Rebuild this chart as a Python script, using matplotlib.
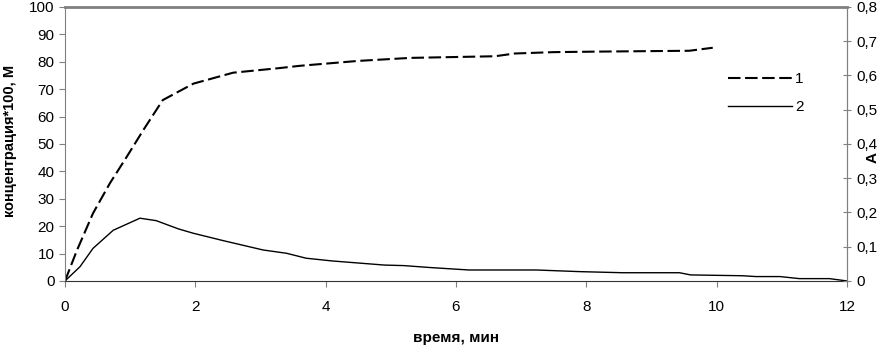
import matplotlib.pyplot as plt
from matplotlib.ticker import FuncFormatter

plt.rcParams['font.family'] = ['Liberation Sans', 'DejaVu Sans']

# кривая 1 (пунктир)
t1 = [0, 0.18, 0.43, 0.69, 0.95, 1.2, 1.5, 1.97, 2.58, 3.3, 3.6, 4.5, 5.3, 6.6, 6.9, 7.5, 8.2, 9.58, 9.94]
c1 = [0, 11, 24.7, 35.7, 45.4, 55, 66, 72, 76, 77.7, 78.5, 80.3, 81.4, 82, 83, 83.5, 83.7, 84, 85.1]

# кривая 2 (сплошная)
t2 = [0, 0.23, 0.43, 0.74, 1.15, 1.4, 1.74, 1.97, 2.43, 3.04, 3.4, 3.7, 4.1, 4.9, 5.2, 5.6, 6.2,
      7.23, 7.9, 8.56, 9.43, 9.6, 10.4, 10.6, 10.97, 11.27, 11.73, 12]
c2 = [0, 5.2, 11.9, 18.5, 22.9, 22, 19, 17.4, 14.7, 11.3, 10.1, 8.3, 7.3, 5.8, 5.6, 4.9, 4,
      4, 3.4, 3, 3, 2.2, 1.9, 1.6, 1.6, 0.85, 0.85, 0]

fig = plt.figure(figsize=(8.82, 3.46), dpi=100)
ax = fig.add_axes([0.0737, 0.188, 0.8866, 0.792])

ax.plot(t1, c1, color='black', lw=1.5, ls=(0, (6, 2.2)), label='1')
ax.plot(t2, c2, color='black', lw=1.0, label='2')

ax.set_xlim(0, 12)
ax.set_ylim(0, 100)
ax.set_xticks(range(0, 13, 2))
ax.set_yticks(range(0, 101, 10))
ax.tick_params(labelsize=11, length=4, color='gray')
ax.tick_params(axis='x', length=4, pad=10)

for s in ['left', 'top', 'right']:
    ax.spines[s].set_color('gray')
ax.spines['top'].set_linewidth(2)
ax.spines['bottom'].set_color('#333333')

ax.set_xlabel('время, мин', fontsize=11, fontweight='bold', labelpad=12)
ax.set_ylabel('концентрация*100, М', fontsize=10.5, fontweight='bold')
ax.yaxis.set_label_coords(-0.062, 0.51)

ax2 = ax.twinx()
ax2.set_ylim(0, 0.8)
ax2.set_yticks([i / 10 for i in range(9)])
ax2.yaxis.set_major_formatter(FuncFormatter(lambda v, p: '0' if v == 0 else f'{v:.1f}'.replace('.', ',')))
ax2.tick_params(labelsize=11, direction='inout', length=6, color='gray')
ax2.spines['right'].set_color('gray')
ax2.spines['top'].set_visible(False)
ax2.spines['left'].set_visible(False)
ax2.spines['bottom'].set_visible(False)
ax2.set_ylabel('A', fontsize=11, fontweight='bold', rotation=90)
ax2.yaxis.set_label_coords(1.024, 0.45)

ax.legend(loc='upper left', bbox_to_anchor=(0.83, 0.811), frameon=False, fontsize=11,
          handlelength=4.2, handletextpad=0.2, labelspacing=0.9)

fig.savefig('out.png', dpi=100)
